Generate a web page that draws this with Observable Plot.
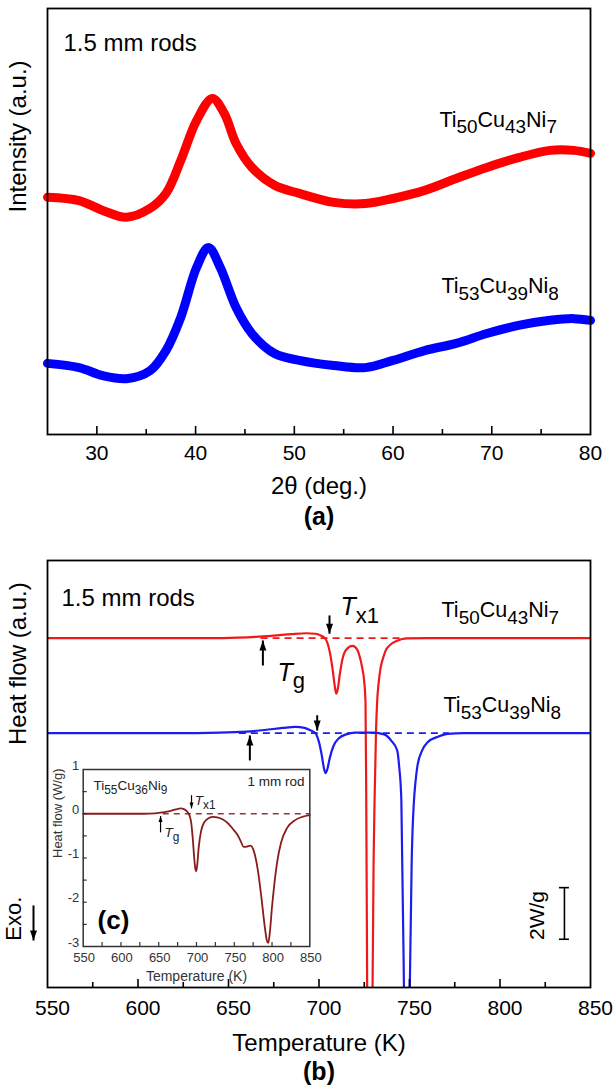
<!DOCTYPE html>
<html><head><meta charset="utf-8">
<script src="https://cdn.jsdelivr.net/npm/d3@7"></script>
<script src="https://cdn.jsdelivr.net/npm/@observablehq/plot@0.6"></script>
<style>
body{margin:0;background:#fff;}
#wrap{position:relative;width:614px;height:1085px;overflow:hidden;}
#wrap svg{position:absolute;background:transparent !important;}
</style></head><body><div id="wrap"></div>
<script>
// ---------------- panel (a): XRD ----------------
const xrdAngleTop = [25, 28.2, 30.6, 33, 35.4, 37, 38.5, 40.1, 41.7, 42.9, 44.1, 45.7, 48, 50.5, 54, 57.2, 60, 63.2, 66.4, 69.5, 72.7, 75.9, 78.3, 80];
const xrdIntTop   = [55.7, 54.9, 52.6, 51.0, 53.1, 56.6, 64.3, 73.7, 78.9, 75.4, 68.3, 62.7, 58.5, 56.6, 54.5, 54.2, 55.4, 57.3, 60.1, 62.7, 65.0, 66.7, 66.7, 66.0];
const xrdAngleBot = [25, 28.2, 30.6, 33, 35.4, 37, 38.5, 40.1, 41.3, 42.5, 44.1, 45.7, 48, 50.5, 54, 57.2, 60, 63.2, 66.4, 69.5, 72.7, 75.9, 78.3, 80];
const xrdIntBot   = [16.7, 15.7, 13.8, 13.1, 15.0, 19.7, 27.5, 39.2, 43.9, 39.2, 29.8, 23.7, 19.0, 17.4, 16.2, 15.7, 17.4, 19.7, 21.4, 23.7, 25.6, 26.8, 27.2, 26.8];
const xrdTickLabels = [30, 40, 50, 60, 70, 80];
const xrdMajorTicks = [30, 40, 50, 60, 70];
const xrdMinorTicks = [35, 45, 55, 65, 75];
const xrdLabels = [
  {angle: 64.7, I: 73.9, text: "Ti_{50}Cu_{43}Ni_{7}"},
  {angle: 64.9, I: 34.8, text: "Ti_{53}Cu_{39}Ni_{8}"}
];

// ---------------- panel (b): DSC (W/g, relative to each baseline) ----------------
const dscTempA = [550, 600, 640, 655, 665, 675, 685, 693, 698, 701, 703, 704.5, 706, 707.5, 708.7, 709.5, 710.3, 711.5, 713, 715, 718.5, 720.5, 722, 723.9, 725, 725.7, 726.1, 726.6, 727.2, 728.2, 729.1, 729.6, 730.2, 730.7, 731.5, 732.1, 733, 734, 735.5, 736.7, 739, 743.2, 748.7, 760, 850];
const dscFlowA = [0, 0, 0, 0.02, 0.05, 0.1, 0.16, 0.19, 0.17, 0.1, 0.02, -0.15, -0.55, -1.2, -1.85, -2.15, -2.0, -1.4, -0.8, -0.45, -0.3, -0.38, -0.6, -1.16, -1.7, -2.5, -6.3, -13.4, -22, -28, -22, -13.4, -8.5, -6.3, -3.6, -2.5, -1.7, -1.16, -0.75, -0.5, -0.28, -0.1, -0.01, 0, 0];
const dscTempB = [550, 620, 645, 660, 670, 680, 687, 692, 695, 697, 698.5, 700, 701.5, 702.7, 703.6, 704.6, 706, 708, 711, 715, 720, 730, 736, 740, 743.2, 744.3, 745.5, 746.9, 747.8, 748.6, 749.4, 750.2, 751.2, 752.4, 753.3, 754.3, 757, 760, 765.3, 771, 780, 850];
const dscFlowB = [0, 0, 0.02, 0.06, 0.12, 0.2, 0.24, 0.2, 0.12, 0.05, -0.05, -0.35, -0.85, -1.35, -1.55, -1.4, -0.95, -0.5, -0.2, -0.05, 0.02, 0.02, -0.05, -0.3, -0.67, -1.3, -2.6, -9.7, -16, -19, -16, -9.7, -5, -2.7, -1.9, -1.31, -0.67, -0.35, -0.15, -0.03, 0, 0];
const dscOffsetA = 0, dscOffsetB = -3.68;
const dscTickLabels = [550, 600, 650, 700, 750, 800, 850];
const dscMajorTicks = [600, 650, 700, 750, 800];
const dscMinorTicks = [575, 625, 675, 725, 775, 825];
const dscBaselines = [
  {from: 668, to: 748, offset: dscOffsetA, color: "#ee1a1a"},
  {from: 656, to: 772, offset: dscOffsetB, color: "#1c1cf0"}
];
// arrows: tip at y2 (relative to series baseline)
const dscArrows = [
  {T: 669, y1: -1.06, y2: -0.09, offset: dscOffsetA, dir: "up"},
  {T: 705.8, y1: 0.88, y2: 0.17, offset: dscOffsetA, dir: "down"},
  {T: 661.8, y1: -1.06, y2: -0.09, offset: dscOffsetB, dir: "up"},
  {T: 699, y1: 0.69, y2: 0.1, offset: dscOffsetB, dir: "down"}
];
const dscLabels = [
  {T: 767.7, y: 1.07, text: "Ti_{50}Cu_{43}Ni_{7}", size: 21.5},
  {T: 768.8, y: -2.6, text: "Ti_{53}Cu_{39}Ni_{8}", size: 21.5},
  {T: 711.9, y: 1.2, text: "*T*_{x1}", size: 25},
  {T: 677.1, y: -1.35, text: "*T*_{g}", size: 25}
];
const scaleBar = [{T: 835.6, y1: -9.67, y2: -11.67, textT: 820.6, textY: -10.75, text: "2W/g"}];
const exoArrow = [{T: 550, y1: -10.36, y2: -11.72, textY: -10.87, text: "Exo."}];

// ---------------- inset (c) ----------------
const insetTemp = [550, 600, 630, 645, 655, 665, 673, 679, 684, 688, 691, 693, 695, 697, 698.5, 699.6, 701, 703, 706, 710, 716, 722, 727.5, 735, 742, 748, 754, 758, 762.7, 767, 771.6, 776, 781, 786, 790, 793, 795, 797, 800, 803, 807, 812, 820, 830, 840, 850];
const insetFlow = [0, 0, 0, 0.01, 0.03, 0.06, 0.1, 0.12, 0.1, 0.04, -0.05, -0.2, -0.55, -1.0, -1.25, -1.3, -1.15, -0.75, -0.4, -0.2, -0.1, -0.07, -0.08, -0.13, -0.22, -0.34, -0.47, -0.6, -0.75, -0.74, -0.72, -0.85, -1.25, -1.9, -2.5, -2.85, -2.92, -2.7, -2.1, -1.6, -1.07, -0.65, -0.32, -0.15, -0.07, -0.03];
const insetXTickLabels = [550, 600, 650, 700, 750, 800, 850];
const insetXMinor = [575, 600, 625, 650, 675, 700, 725, 750, 775, 800, 825];
const insetYTickLabels = [1, 0, -1, -2, -3];
const insetYMinor = [0.5, 0, -0.5, -1, -1.5, -2, -2.5];
const insetBaseline = [{from: 656, to: 850}];
const insetArrows = [
  {T: 652.4, y1: -0.42, y2: -0.05, dir: "up"},
  {T: 693.4, y1: 0.42, y2: 0.12, dir: "down"}
];
const insetLabels = [
  {T: 563.6, y: 0.63, text: "Ti_{55}Cu_{36}Ni_{9}"},
  {T: 697.6, y: 0.29, text: "*T*_{x1}"},
  {T: 657.7, y: -0.42, text: "*T*_{g}"}
];
const insetNote = [{T: 843, y: 0.72, text: "1 mm rod"}];
const insetTag = [{T: 569, y: -2.42, text: "(c)"}];

// ---------------- helpers ----------------
const FONT = '"Liberation Sans", Arial, Helvetica, sans-serif';
const arrowUp = (h, w) => ({draw(ctx) { ctx.moveTo(0, -h / 2); ctx.lineTo(w / 2, h / 2); ctx.lineTo(-w / 2, h / 2); ctx.closePath(); }});
const arrowDown = (h, w) => ({draw(ctx) { ctx.moveTo(0, h / 2); ctx.lineTo(w / 2, -h / 2); ctx.lineTo(-w / 2, -h / 2); ctx.closePath(); }});

function arrowMarks(data, {x, yOff = () => 0, h, w, sw, dx = 0}) {
  const up = data.filter(d => d.dir === "up"), down = data.filter(d => d.dir === "down");
  return [
    Plot.link(data, {x1: x, x2: x, y1: d => d.y1 + yOff(d), y2: d => d.y2 + yOff(d), stroke: "black", strokeWidth: sw, dx}),
    Plot.dot(up, {x, y: d => d.y2 + yOff(d), symbol: arrowUp(h, w), fill: "black", stroke: "none", r: 4, dy: h / 2, dx}),
    Plot.dot(down, {x, y: d => d.y2 + yOff(d), symbol: arrowDown(h, w), fill: "black", stroke: "none", r: 4, dy: -h / 2, dx})
  ];
}

function richText(svg) {
  svg.querySelectorAll("g.rich text").forEach(t => {
    const src = t.textContent;
    const fs = parseFloat(getComputedStyle(t).fontSize);
    const sh = fs * 0.3;
    t.textContent = "";
    let shifted = false;
    for (const m of src.matchAll(/_\{([^}]*)\}|\*([^*]*)\*|([^_*]+)/g)) {
      const ts = document.createElementNS("http://www.w3.org/2000/svg", "tspan");
      if (m[1] != null) {
        ts.textContent = m[1];
        ts.setAttribute("font-size", (fs * 0.88).toFixed(1));
        if (!shifted) { ts.setAttribute("dy", sh.toFixed(1)); shifted = true; }
      } else {
        ts.textContent = m[2] != null ? m[2] : m[3];
        if (m[2] != null) ts.setAttribute("font-style", "italic");
        if (shifted) { ts.setAttribute("dy", (-sh).toFixed(1)); shifted = false; }
      }
      t.appendChild(ts);
    }
  });
}

const wrap = document.getElementById("wrap");
function place(svg, left, top) {
  svg.style.left = left + "px"; svg.style.top = top + "px";
  wrap.appendChild(svg);
  richText(svg);
}

// ---------------- build panel (a) ----------------
const xrdTop = xrdAngleTop.map((a, i) => ({angle: a, I: xrdIntTop[i]}));
const xrdBot = xrdAngleBot.map((a, i) => ({angle: a, I: xrdIntBot[i]}));
const frameA = 426;
const plotA = Plot.plot({
  width: 614, height: 540,
  marginTop: 8, marginLeft: 47, marginRight: 24, marginBottom: 106,
  style: {fontFamily: FONT, fontSize: "21px", background: "transparent", overflow: "visible", color: "black"},
  x: {domain: [25, 80]},
  y: {domain: [0, 100], axis: null},
  marks: [
    Plot.line(xrdTop, {x: "angle", y: "I", stroke: "#ff0000", strokeWidth: 9, curve: "catmull-rom", strokeLinejoin: "round"}),
    Plot.line(xrdBot, {x: "angle", y: "I", stroke: "#0000ff", strokeWidth: 9, curve: "catmull-rom", strokeLinejoin: "round"}),
    Plot.tickX(xrdMajorTicks, {x: d => d, insetTop: frameA - 8, stroke: "black", strokeWidth: 1.6}),
    Plot.tickX(xrdMinorTicks, {x: d => d, insetTop: frameA - 5, stroke: "black", strokeWidth: 1.6}),
    Plot.axisX({ticks: xrdTickLabels, tickSize: 0, tickPadding: 11, tickFormat: d => String(d), label: null, fontSize: 21}),
    Plot.frame({stroke: "black", strokeWidth: 1.8}),
    Plot.text(xrdLabels, {x: "angle", y: "I", text: "text", textAnchor: "start", lineAnchor: "middle", fontSize: 21.5, className: "rich"}),
    Plot.text(["1.5 mm rods"], {frameAnchor: "top-left", dx: 16, dy: 35, textAnchor: "start", lineAnchor: "middle", fontSize: 24}),
    Plot.text(["2θ (deg.)"], {frameAnchor: "bottom", dy: 52, lineAnchor: "middle", fontSize: 24}),
    Plot.text(["(a)"], {frameAnchor: "bottom", dy: 82, lineAnchor: "middle", fontSize: 25, fontWeight: "bold"}),
    Plot.text(["Intensity (a.u.)"], {frameAnchor: "left", dx: -29, dy: -9, rotate: -90, lineAnchor: "middle", fontSize: 24})
  ]
});
place(plotA, 0, 0);

// ---------------- build panel (b) ----------------
const dscA = dscTempA.map((t, i) => ({T: t, q: dscFlowA[i] + dscOffsetA}));
const dscB = dscTempB.map((t, i) => ({T: t, q: dscFlowB[i] + dscOffsetB}));
const frameB = 427;
const plotB = Plot.plot({
  width: 614, height: 565,
  marginTop: 40, marginLeft: 47, marginRight: 24, marginBottom: 98,
  style: {fontFamily: FONT, fontSize: "21px", background: "transparent", overflow: "visible", color: "black"},
  x: {domain: [550, 850]},
  y: {domain: [-13.54, 3.01], axis: null},
  marks: [
    Plot.ruleY(dscBaselines, {y: "offset", x1: "from", x2: "to", stroke: "color", strokeWidth: 1.8, strokeDasharray: "7,5"}),
    Plot.line(dscA, {x: "T", y: "q", stroke: "#ee1a1a", strokeWidth: 2.2, curve: "monotone-x", clip: true}),
    Plot.line(dscB, {x: "T", y: "q", stroke: "#1c1cf0", strokeWidth: 2.2, curve: "monotone-x", clip: true}),
    ...arrowMarks(dscArrows, {x: "T", yOff: d => d.offset, h: 10, w: 7, sw: 2}),
    Plot.tickX(dscMajorTicks, {x: d => d, insetTop: frameB - 8, stroke: "black", strokeWidth: 1.6}),
    Plot.tickX(dscMinorTicks, {x: d => d, insetTop: frameB - 5, stroke: "black", strokeWidth: 1.6}),
    Plot.axisX({ticks: dscTickLabels, tickSize: 0, tickPadding: 13, dx: 5, tickFormat: d => String(d), label: null, fontSize: 21}),
    Plot.frame({stroke: "black", strokeWidth: 1.8}),
    Plot.text(dscLabels, {x: "T", y: "y", text: "text", textAnchor: "start", lineAnchor: "middle", fontSize: "size", className: "rich"}),
    Plot.link(scaleBar, {x1: "T", x2: "T", y1: "y1", y2: "y2", stroke: "black", strokeWidth: 1.6}),
    Plot.ruleY(scaleBar, {y: "y1", x1: "T", x2: "T", insetLeft: -5, insetRight: -5, stroke: "black", strokeWidth: 1.6}),
    Plot.ruleY(scaleBar, {y: "y2", x1: "T", x2: "T", insetLeft: -5, insetRight: -5, stroke: "black", strokeWidth: 1.6}),
    Plot.text(scaleBar, {x: "textT", y: "textY", text: "text", rotate: -90, lineAnchor: "middle", fontSize: 21}),
    Plot.link(exoArrow, {x1: "T", x2: "T", y1: "y1", y2: "y2", stroke: "black", strokeWidth: 2, dx: -14}),
    Plot.dot(exoArrow, {x: "T", y: "y2", symbol: arrowDown(10, 7), fill: "black", stroke: "none", r: 4, dx: -14, dy: -5}),
    Plot.text(exoArrow, {x: "T", y: "textY", text: "text", rotate: -90, dx: -34, lineAnchor: "middle", fontSize: 22}),
    Plot.text(["1.5 mm rods"], {frameAnchor: "top-left", dx: 14, dy: 38, textAnchor: "start", lineAnchor: "middle", fontSize: 24}),
    Plot.text(["Heat flow (a.u.)"], {frameAnchor: "left", dx: -29, dy: -29, rotate: -90, lineAnchor: "middle", fontSize: 24}),
    Plot.text(["Temperature (K)"], {frameAnchor: "bottom", dy: 56, lineAnchor: "middle", fontSize: 24}),
    Plot.text(["(b)"], {frameAnchor: "bottom", dy: 84, lineAnchor: "middle", fontSize: 25, fontWeight: "bold"})
  ]
});
place(plotB, 0, 520);

// ---------------- build inset (c) ----------------
const inset = insetTemp.map((t, i) => ({T: t, q: insetFlow[i]}));
const frameCw = 226.6, frameCh = 177;
const plotC = Plot.plot({
  width: 290, height: 240,
  marginTop: 29, marginLeft: 42.7, marginRight: 20.7, marginBottom: 34,
  style: {fontFamily: FONT, fontSize: "13px", background: "transparent", overflow: "visible", color: "#222"},
  x: {domain: [550, 850]},
  y: {domain: [-3, 1], axis: null},
  marks: [
    Plot.ruleY(insetBaseline, {y: 0, x1: "from", x2: "to", stroke: "#8a3a3a", strokeWidth: 1.5, strokeDasharray: "6,5"}),
    Plot.line(inset, {x: "T", y: "q", stroke: "#8b1a1a", strokeWidth: 1.8, curve: "monotone-x"}),
    ...arrowMarks(insetArrows, {x: "T", h: 6, w: 4, sw: 1.2}),
    Plot.tickX(insetXMinor, {x: d => d, insetTop: frameCh - 4, stroke: "#333", strokeWidth: 1.2}),
    Plot.tickY(insetYMinor, {y: d => d, insetRight: frameCw - 4, stroke: "#333", strokeWidth: 1.2}),
    Plot.axisX({ticks: insetXTickLabels, tickSize: 0, tickPadding: 6, dx: 1, tickFormat: d => String(d), label: null, fontSize: 13, fill: "#333"}),
    Plot.axisY({ticks: insetYTickLabels, tickSize: 0, tickPadding: 4, dy: -4, tickFormat: d => String(d), label: null, fontSize: 13, fill: "#333"}),
    Plot.frame({stroke: "#333", strokeWidth: 1.5}),
    Plot.text(insetLabels, {x: "T", y: "y", text: "text", textAnchor: "start", lineAnchor: "middle", fontSize: 13.5, className: "rich"}),
    Plot.text(insetNote, {x: "T", y: "y", text: "text", textAnchor: "end", lineAnchor: "middle", fontSize: 13.5}),
    Plot.text(insetTag, {x: "T", y: "y", text: "text", textAnchor: "start", lineAnchor: "middle", fontSize: 26, fontWeight: "bold", fill: "black"}),
    Plot.text(["Temperature (K)"], {frameAnchor: "bottom", dy: 30, lineAnchor: "middle", fontSize: 14, fill: "#333"}),
    Plot.text(["Heat flow (W/g)"], {frameAnchor: "left", dx: -25, rotate: -90, lineAnchor: "middle", fontSize: 13, fill: "#333"})
  ]
});
place(plotC, 40, 740);
</script>
</body></html>
